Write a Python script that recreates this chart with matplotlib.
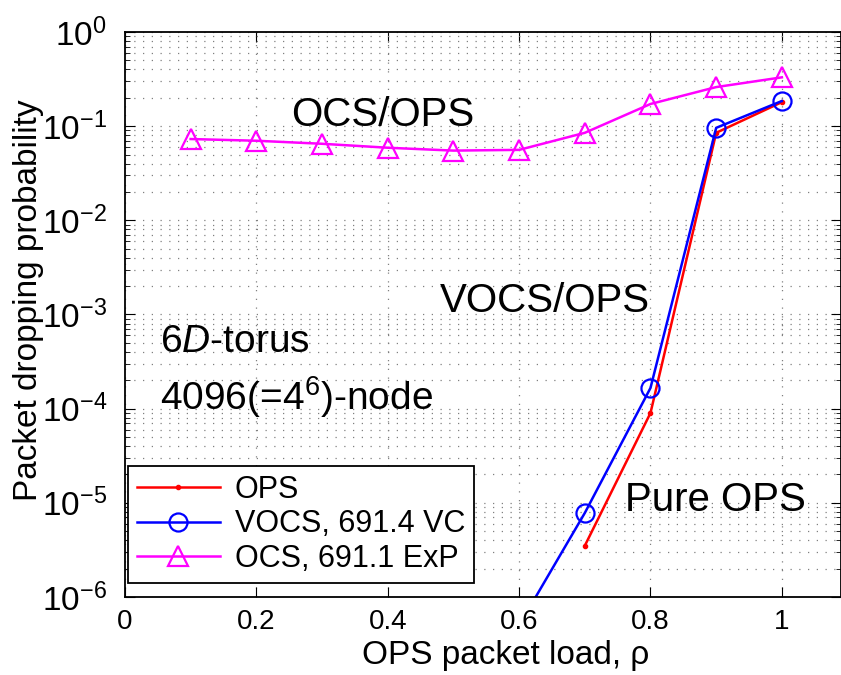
import numpy as np
import matplotlib
matplotlib.use("Agg")
import matplotlib.pyplot as plt
from matplotlib.ticker import FixedLocator, NullFormatter

plt.rcParams['font.family'] = ['Liberation Sans', 'DejaVu Sans']
plt.rcParams['mathtext.fontset'] = 'custom'
plt.rcParams['mathtext.rm'] = 'Liberation Sans'
plt.rcParams['mathtext.it'] = 'Liberation Sans:italic'

# dados
ops_x = [0.7, 0.8, 0.9, 1.0]
ops_y = [3.5e-6, 9.0e-5, 0.085, 0.18]

vocs_x = [0.6, 0.7, 0.8, 0.9, 1.0]
vocs_y = [5.0e-7, 7.8e-6, 1.66e-4, 0.096, 0.185]

ocs_x = [0.1, 0.2, 0.3, 0.4, 0.5, 0.6, 0.7, 0.8, 0.9, 1.0]
ocs_y = [0.073, 0.070, 0.065, 0.059, 0.055, 0.056, 0.085, 0.172, 0.26, 0.33]

labels = ["OPS", "VOCS, 691.4 VC", "OCS, 691.1 ExP"]
xticks = [0, 0.2, 0.4, 0.6, 0.8, 1]
yexp = [-6, -5, -4, -3, -2, -1, 0]

fig = plt.figure(figsize=(8.41, 6.75), dpi=100)
ax = fig.add_axes([0.1486, 0.1156, 0.8514, 0.837])

ax.plot(ops_x, ops_y, color='red', marker='.', markersize=6, lw=1.8, label=labels[0])
ax.plot(vocs_x, vocs_y, color='blue', marker='o', markersize=13, mfc='none',
        mew=1.6, lw=1.8, label=labels[1])
ax.plot(ocs_x, ocs_y, color='magenta', marker='^', markersize=14, mfc='none',
        mew=1.6, lw=1.8, label=labels[2])

ax.set_yscale('log')
ax.set_ylim(1e-6, 1)
ax.set_xlim(0, 1.09)
ax.set_xticks(xticks)
ax.set_xticklabels(['0', '0.2', '0.4', '0.6', '0.8', '1'])
ax.set_yticks([10.0 ** e for e in yexp])
ax.set_yticklabels([r'$10^{%d}$' % e for e in yexp])
minors = [m * 10.0 ** e for e in yexp[:-1] for m in range(2, 10)]
ax.yaxis.set_minor_locator(FixedLocator(minors))
ax.yaxis.set_minor_formatter(NullFormatter())

ax.tick_params(axis='both', which='both', direction='in', top=True, right=True)
ax.tick_params(axis='x', labelsize=20, pad=9)
ax.tick_params(axis='y', labelsize=24, pad=13)
ax.tick_params(axis='both', which='major', length=7)
ax.tick_params(axis='y', which='minor', length=3.5)

ax.grid(True, which='major', linestyle=(0, (1, 6)), color='0.5', lw=0.9)
ax.grid(True, which='minor', axis='y', linestyle=(0, (1, 6)), color='0.5', lw=0.9)

for s in ax.spines.values():
    s.set_linewidth(1.3)

ax.set_xlabel(u'OPS packet load, \u03c1', fontsize=24)
ax.xaxis.set_label_coords(0.532, -0.076)
ax.set_ylabel('Packet dropping probability', fontsize=24, va='center')
ax.yaxis.set_label_coords(-0.135, 0.526)

ax.text(0.393, 0.1005, 'OCS/OPS', fontsize=29, ha='center', va='baseline')
ax.text(0.639, 1.07e-3, 'VOCS/OPS', fontsize=29, ha='center', va='baseline')
ax.text(0.053, 4.0e-4, r'6$\it{D}$-torus', fontsize=28, ha='left', va='baseline')
ax.text(0.053, 9.7e-5, r'4096(=4$^6$)-node', fontsize=28, ha='left', va='baseline')
ax.text(0.761, 8.2e-6, 'Pure OPS', fontsize=29, ha='left', va='baseline')

leg = ax.legend(loc='lower left', bbox_to_anchor=(0.004, 0.025), fontsize=22,
                frameon=True, fancybox=False, edgecolor='black', framealpha=1,
                handlelength=2.7, handletextpad=0.5, borderpad=0.3, labelspacing=0.14,
                borderaxespad=0)
leg.get_frame().set_linewidth(1.3)

fig.savefig('out.png', dpi=100)
